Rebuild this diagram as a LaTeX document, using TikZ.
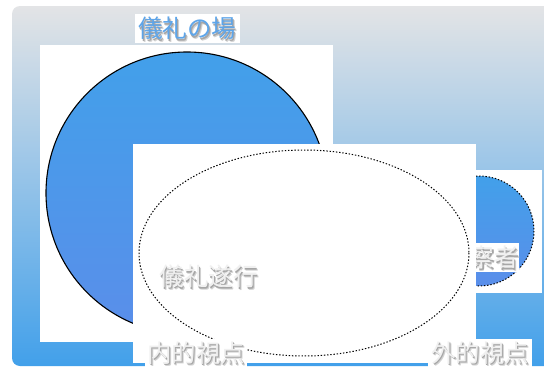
\documentclass[tikz,border=0pt]{standalone}
\usepackage{fontspec}
\newfontfamily\cjk{Noto Sans CJK JP}
\definecolor{bgtop}{HTML}{E3E4E6}
\definecolor{bgbot}{HTML}{42A0EA}
\definecolor{ctop}{HTML}{42A0EA}
\definecolor{cbot}{HTML}{5A8EEA}
\definecolor{titleblue}{HTML}{5EA5E9}
\definecolor{txtlight}{HTML}{F0F0F0}
\definecolor{shadowfar}{HTML}{D2D2D2}
\definecolor{shadownear}{HTML}{A6A6A6}
\tikzset{
  panel/.style={fill=white, draw=none, inner sep=0pt, anchor=north west},
  labelbg/.style={fill=white, draw=none, inner sep=0pt},
  cjktxt/.style={font=\cjk\fontsize{24.5}{25}\selectfont, inner sep=0pt},
  scenecircle/.style={line width=1.1pt, draw=black, top color=ctop, bottom color=cbot},
  dotline/.style={line width=1pt, draw=black, dash pattern=on 1.4pt off 1.8pt},
}
\newcommand{\shadowed}[2]{%
  \rlap{\raisebox{-2.5pt}[0pt][0pt]{\kern2.2pt\textcolor{shadowfar}{#1}}}%
  \rlap{\raisebox{-1.5pt}[0pt][0pt]{\kern1.3pt\textcolor{shadownear}{#1}}}%
  \textcolor{#2}{#1}}
\begin{document}
\begin{tikzpicture}[x=1pt,y=-1pt]
\useasboundingbox (0,0) rectangle (544,367);
\fill[white] (0,0) rectangle (544,367);
% background
\shade[top color=bgtop, bottom color=bgbot, rounded corners=8pt] (12,6) rectangle (580,366);
% left panel with scene circle
\node[panel, minimum width=293pt, minimum height=297pt] (lpanel) at (40,45) {};
\shadedraw[scenecircle] (187,193) circle [radius=141];
% title
\node[labelbg, minimum width=105pt, minimum height=29pt] (titlebg) at (187.5,28.5) {};
\node[cjktxt] (title) at (187,28.5) {\shadowed{儀礼の場}{titleblue}};
% right panel with observer circle
\node[panel, minimum width=66pt, minimum height=123pt] (rpanel) at (476,170) {};
\shadedraw[dotline, top color=ctop, bottom color=cbot] (479,231) circle [radius=55];
\node[labelbg, minimum width=74pt, minimum height=29pt] (obsbg) at (482,257.5) {};
\node[cjktxt] (obs) at (482,257.5) {\shadowed{観察者}{txtlight}};
% middle panel with ritual ellipse
\node[panel, minimum width=343pt, minimum height=219pt] (mpanel) at (133,144) {};
\draw[dotline] (304,253) ellipse [x radius=165, y radius=103];
\node[cjktxt] (rite) at (208.5,276.5) {\shadowed{儀礼遂行}{txtlight}};
% bottom labels
\node[labelbg, minimum width=102pt, minimum height=28pt] (innerbg) at (196,353) {};
\node[cjktxt] (inner) at (196,353) {\shadowed{内的視点}{txtlight}};
\node[labelbg, minimum width=104pt, minimum height=28pt] (outerbg) at (480,353) {};
\node[cjktxt] (outer) at (480,353) {\shadowed{外的視点}{txtlight}};
\end{tikzpicture}
\end{document}
